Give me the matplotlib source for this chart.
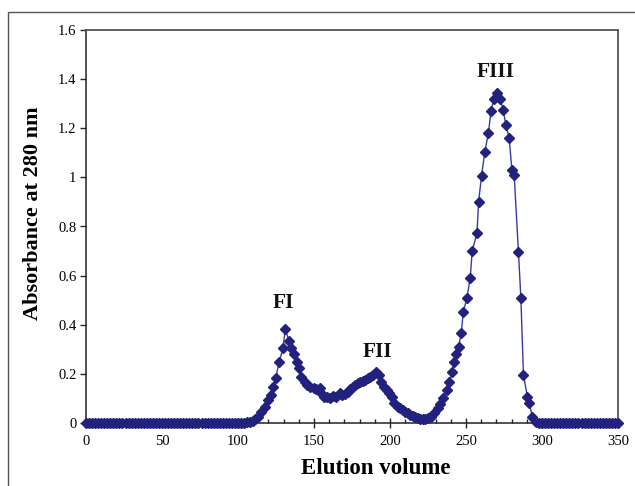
import matplotlib
matplotlib.use("Agg")
import matplotlib.pyplot as plt
from matplotlib.patches import Rectangle
from matplotlib.ticker import MultipleLocator

# Elution profile (volume, absorbance at 280 nm)
baseline_left_x = [0, 2, 4, 6, 8, 10, 12, 14, 16, 18, 20, 22, 24, 26, 28, 30, 32, 34,
                   36, 38, 40, 42, 44, 46, 48, 50, 52, 54, 56, 58, 60, 62, 64, 66, 68,
                   70, 72, 74, 76, 78, 80, 82, 84, 86, 88, 90, 92, 94, 96, 98, 100,
                   102, 104]
baseline_left_y = [0, 0, 0, 0, 0, 0, 0, 0, 0, 0, 0, 0, 0, 0, 0, 0, 0, 0,
                   0, 0, 0, 0, 0, 0, 0, 0, 0, 0, 0, 0, 0, 0, 0, 0, 0,
                   0, 0, 0, 0, 0, 0, 0, 0, 0, 0, 0, 0, 0, 0, 0, 0.001,
                   0.002, 0.002]

peaks_x = [106, 108, 109.9, 111.5, 113.2, 115.4, 117.5, 119.7, 121.5, 123, 124.8,
           127, 129.6, 131.1, 133.5, 135.1, 136.8, 138.8, 140.1, 141.6, 143.8, 145.5,
           147.1, 149.7, 151.5, 153.7, 155.3, 156.9, 158.5, 160.2, 162.4, 164.6, 166.8,
           168.5, 170.4, 172.2, 174, 175.5, 177.2, 178.8, 180.5, 182.1, 183.8, 185.4,
           187, 188.7, 190.9, 192.6, 194.1, 196.3, 197.8, 199.2, 201.4, 202.9, 205.1,
           206.8, 208.4, 210, 211.7, 213.3, 214.9, 216.5, 218.2, 219.8, 221.5, 223.2,
           224.8, 227, 229.2, 231.3, 233.2, 235.1, 237.3, 239, 240.8, 242.3, 243.4,
           245.1, 246.9, 248.2, 250.6, 252.8, 254.1, 257.2, 258.3, 260.2, 262.4, 264.8,
           266.4, 268.3, 270.7, 272.6, 274.5, 276.2, 278.4, 280.2, 281.7, 284.5, 286.1,
           287.8, 290.4, 291.5, 293.7, 296]
peaks_y = [0.003, 0.005, 0.008, 0.015, 0.026, 0.046, 0.066, 0.094, 0.114, 0.148, 0.182,
           0.247, 0.304, 0.383, 0.334, 0.304, 0.280, 0.250, 0.223, 0.189, 0.168, 0.155,
           0.148, 0.141, 0.138, 0.141, 0.120, 0.107, 0.104, 0.103, 0.108, 0.107, 0.121,
           0.115, 0.120, 0.128, 0.140, 0.148, 0.155, 0.161, 0.166, 0.172, 0.176, 0.182,
           0.188, 0.195, 0.209, 0.195, 0.168, 0.148, 0.135, 0.121, 0.105, 0.083, 0.066,
           0.060, 0.053, 0.046, 0.039, 0.033, 0.028, 0.023, 0.019, 0.017, 0.015, 0.016,
           0.019, 0.026, 0.039, 0.060, 0.078, 0.100, 0.134, 0.168, 0.209, 0.250, 0.280,
           0.311, 0.365, 0.453, 0.508, 0.592, 0.702, 0.772, 0.901, 1.006, 1.105, 1.182,
           1.270, 1.318, 1.345, 1.318, 1.274, 1.213, 1.159, 1.030, 1.010, 0.697, 0.508,
           0.195, 0.107, 0.080, 0.026, 0.005]

baseline_right_x = [298, 300, 302, 304, 306, 308, 310, 312, 314, 316, 318, 320, 322,
                    324, 326, 328, 330, 332, 334, 336, 338, 340, 342, 344, 346, 348, 350]
baseline_right_y = [0.002, 0.001, 0, 0, 0, 0, 0, 0, 0, 0, 0, 0, 0,
                    0, 0, 0, 0, 0, 0, 0, 0, 0, 0, 0, 0, 0, 0]

volume = baseline_left_x + peaks_x + baseline_right_x
absorbance = baseline_left_y + peaks_y + baseline_right_y

fraction_labels = ["FI", "FII", "FIII"]
fraction_pos = [(130, 0.49), (191.6, 0.29), (269.7, 1.43)]

x_ticks = [0, 50, 100, 150, 200, 250, 300, 350]
y_ticks = [0, 0.2, 0.4, 0.6, 0.8, 1, 1.2, 1.4, 1.6]
y_tick_labels = ["0", "0.2", "0.4", "0.6", "0.8", "1", "1.2", "1.4", "1.6"]

plt.rcParams["font.family"] = ["Liberation Serif", "DejaVu Serif"]

fig = plt.figure(figsize=(6.35, 4.86), dpi=100)
fig.patch.set_facecolor("white")

# outer chart-area border (runs off the right and bottom edges)
fig.patches.append(Rectangle((8 / 635, -0.05), 1.2, 1 - 12 / 486 + 0.05,
                             transform=fig.transFigure, fill=False,
                             edgecolor="#555555", linewidth=1.0))

ax = fig.add_axes([86 / 635, 1 - 423 / 486, (618 - 86) / 635, (423 - 30) / 486])

navy = "#22227e"
ax.plot(volume, absorbance, color="#3a3aa6", linewidth=1.0, marker="D",
        markersize=5.0, markerfacecolor=navy, markeredgecolor=navy, clip_on=False,
        zorder=3)

for lab, (lx, ly) in zip(fraction_labels, fraction_pos):
    ax.text(lx, ly, lab, ha="center", va="center", fontsize=15.5, fontweight="bold",
            color="#111111")

ax.set_xlim(0, 350)
ax.set_ylim(0, 1.6)
ax.set_xticks(x_ticks)
ax.set_yticks(y_ticks)
ax.set_yticklabels(y_tick_labels)
ax.xaxis.set_minor_locator(MultipleLocator(10))

ax.tick_params(axis="x", which="major", direction="inout", length=7, width=1,
               labelsize=10.5, pad=5, color="#222222")
ax.tick_params(axis="x", which="minor", direction="in", length=3, width=1,
               color="#222222")
ax.tick_params(axis="y", which="major", direction="out", length=4, width=1,
               labelsize=10.5, pad=3, color="#222222")
ax.tick_params(top=False, right=False)

for side in ["left", "bottom"]:
    ax.spines[side].set_color("#222222")
    ax.spines[side].set_linewidth(1.1)
for side in ["top", "right"]:
    ax.spines[side].set_color("#555555")
    ax.spines[side].set_linewidth(1.3)

ax.set_xlabel("Elution volume", fontsize=16.5, fontweight="bold")
ax.set_ylabel("Absorbance at 280 nm", fontsize=16, fontweight="bold")
ax.xaxis.set_label_coords(0.545, -0.088)
ax.yaxis.set_label_coords(-0.08, 0.535)

fig.savefig("out.png", dpi=100, facecolor="white")
